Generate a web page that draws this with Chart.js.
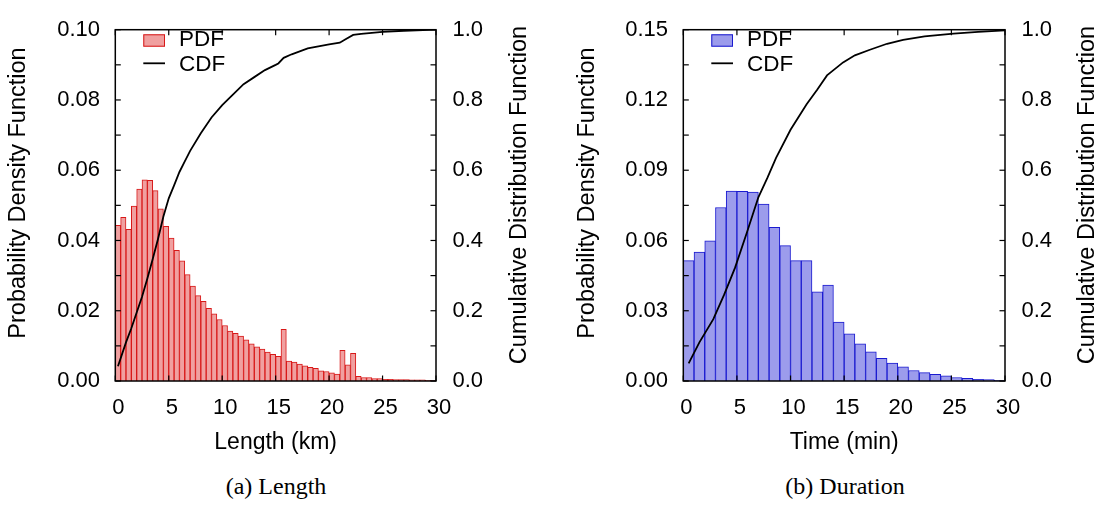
<!DOCTYPE html>
<html><head><meta charset="utf-8">
<script src="https://cdn.jsdelivr.net/npm/chart.js@4.4.1/dist/chart.umd.min.js"></script>
<style>
html,body{margin:0;padding:0;background:#fff;}
#wrap{position:relative;width:1102px;height:532px;overflow:hidden;background:#fff;}
canvas{position:absolute;top:0;}
#c1{left:0;} #c2{left:552px;}
.cap{position:absolute;top:472px;font-family:"Liberation Serif","DejaVu Serif",serif;font-size:24px;transform:translateX(-50%);white-space:nowrap;line-height:28px;color:#000;}
</style></head><body>
<div id="wrap">
<canvas id="c1" width="552" height="460"></canvas>
<canvas id="c2" width="550" height="460"></canvas>
<div class="cap" style="left:276px">(a) Length</div>
<div class="cap" style="left:845px">(b) Duration</div>
</div>
<script>
// ---------- data ----------
const lengthBins = [0.25,0.75,1.25,1.75,2.25,2.75,3.25,3.75,4.25,4.75,5.25,5.75,6.25,6.75,7.25,7.75,8.25,8.75,9.25,9.75,
  10.25,10.75,11.25,11.75,12.25,12.75,13.25,13.75,14.25,14.75,15.25,15.75,16.25,16.75,17.25,17.75,18.25,18.75,19.25,19.75,
  20.25,20.75,21.25,21.75,22.25,22.75,23.25,23.75,24.25,24.75,25.25,25.75,26.25,26.75,27.25,27.75,28.25,28.75,29.25,29.75];
const lengthPdf = [0.0443,0.0466,0.0432,0.0498,0.0546,0.0573,0.0571,0.0542,0.0490,0.0440,
  0.0407,0.0372,0.0342,0.0303,0.0270,0.0243,0.0227,0.0207,0.0191,0.0175,
  0.0158,0.0142,0.0136,0.0128,0.0117,0.0106,0.0097,0.0091,0.0082,0.0076,
  0.0070,0.0147,0.0057,0.0054,0.0048,0.0043,0.0039,0.0036,0.0029,0.0027,
  0.0023,0.0020,0.0087,0.0046,0.0079,0.0013,0.0010,0.0010,0.0007,0.0007,
  0.0005,0.0005,0.0004,0.0004,0.0004,0.0003,0.0003,0.0003,0.0002,0.0002];
const lengthCdfX = [0.25,1.0,1.5,2.0,2.5,3.0,3.5,4.0,4.5,5.0,5.5,6.0,6.5,7.0,8.0,9.0,10.0,11.0,12.0,13.0,14.0,15.0,15.25,15.75,16.5,18.0,20.0,21.0,21.5,22.25,23.0,25.0,27.0,30.0];
const lengthCdfY = [0.042,0.110,0.150,0.195,0.240,0.292,0.347,0.405,0.468,0.520,0.557,0.595,0.625,0.655,0.705,0.750,0.785,0.815,0.845,0.865,0.885,0.900,0.904,0.920,0.930,0.947,0.958,0.963,0.972,0.985,0.988,0.994,0.997,1.000];

const timeBins = [0.5,1.5,2.5,3.5,4.5,5.5,6.5,7.5,8.5,9.5,10.5,11.5,12.5,13.5,14.5,15.5,16.5,17.5,18.5,19.5,
  20.5,21.5,22.5,23.5,24.5,25.5,26.5,27.5,28.5,29.5];
const timePdf = [0.0514,0.0551,0.0599,0.0741,0.0811,0.0810,0.0807,0.0755,0.0656,0.0578,
  0.0514,0.0514,0.0381,0.0410,0.0252,0.0201,0.0159,0.0125,0.0097,0.0077,
  0.0060,0.0045,0.0036,0.0028,0.0022,0.0015,0.0011,0.0007,0.0006,0.0003];
const timeCdfX = [0.5,1.5,2.8,3.8,4.82,5.9,7.0,7.84,8.65,10.0,11.5,12.5,13.4,14.9,16.0,17.4,19.0,20.5,22.5,25.2,27.5,30.0];
const timeCdfY = [0.050,0.110,0.176,0.245,0.322,0.420,0.523,0.578,0.635,0.715,0.788,0.830,0.870,0.907,0.927,0.943,0.960,0.971,0.981,0.989,0.994,0.998];

const xTickLabels = [0,5,10,15,20,25,30];
const lengthYTicks = [0,0.02,0.04,0.06,0.08,0.10];
const timeYTicks = [0,0.03,0.06,0.09,0.12,0.15];
const cdfTicks = [0,0.2,0.4,0.6,0.8,1.0];

// ---------- drawing ----------
const SANS = '"Liberation Sans", Arial, Helvetica, sans-serif';
Chart.defaults.font.family = SANS;
Chart.defaults.color = '#000';

const decor = {
  id: 'decor',
  afterDatasetsDraw(chart, args, o) {
    const {ctx, chartArea: a, scales} = chart;
    ctx.save();
    ctx.strokeStyle = '#000';
    const seg = (x1,y1,x2,y2) => { ctx.beginPath(); ctx.moveTo(x1,y1); ctx.lineTo(x2,y2); ctx.stroke(); };
    ctx.lineWidth = 1.2;
    const TL = 5.5;
    for (const v of xTickLabels) {
      const px = scales.x.getPixelForValue(v);
      seg(px, a.bottom, px, a.bottom - TL);
      seg(px, a.top, px, a.top + TL);
    }
    const yt = o.yTicks;
    for (let i = 0; i < yt.length; i++) {
      const py = scales.y.getPixelForValue(yt[i]);
      seg(a.left, py, a.left + TL, py);
      if (i < yt.length - 1) {
        const pm = scales.y.getPixelForValue((yt[i] + yt[i+1]) / 2);
        seg(a.left, pm, a.left + TL, pm);
      }
    }
    for (let i = 0; i < cdfTicks.length; i++) {
      const py = scales.y2.getPixelForValue(cdfTicks[i]);
      seg(a.right, py, a.right - TL, py);
      if (i < cdfTicks.length - 1) {
        const pm = scales.y2.getPixelForValue((cdfTicks[i] + cdfTicks[i+1]) / 2);
        seg(a.right, pm, a.right - TL, pm);
      }
    }
    ctx.lineWidth = 1.5;
    ctx.strokeRect(a.left, a.top, a.right - a.left, a.bottom - a.top);
    // legend
    const lx = a.left + 28;
    ctx.fillStyle = o.fill;
    ctx.fillRect(lx, 34.3, 21.7, 12.4);
    ctx.strokeStyle = o.border; ctx.lineWidth = 1;
    ctx.strokeRect(lx + 0.5, 34.8, 20.7, 11.4);
    ctx.strokeStyle = '#000'; ctx.lineWidth = 1.8;
    seg(lx, 63.3, lx + 21.7, 63.3);
    ctx.fillStyle = '#000';
    ctx.font = '22.5px ' + SANS;
    ctx.textAlign = 'left'; ctx.textBaseline = 'middle';
    ctx.fillText('PDF', a.left + 63.7, 40);
    ctx.fillText('CDF', a.left + 63.7, 64.5);
    // axis titles (both read bottom-to-top)
    ctx.font = '23.5px ' + SANS;
    ctx.textAlign = 'center'; ctx.textBaseline = 'middle';
    ctx.save();
    ctx.translate(o.ltX, 193);
    ctx.rotate(-Math.PI / 2);
    ctx.fillText('Probability Density Function', 0, 0);
    ctx.restore();
    ctx.save();
    ctx.translate(o.rtX, 195);
    ctx.rotate(-Math.PI / 2);
    ctx.fillText('Cumulative Distribution Function', 0, 0);
    ctx.restore();
    ctx.restore();
  }
};

function makeChart(id, c) {
  const setTicks = (vals) => (s) => { s.ticks = vals.map(v => ({value: v})); };
  return new Chart(document.getElementById(id), {
    type: 'bar',
    data: {
      datasets: [
        {
          type: 'line', label: 'CDF', order: 0,
          data: c.cdfX.map((x, i) => ({x, y: c.cdfY[i]})),
          xAxisID: 'x', yAxisID: 'y2',
          borderColor: '#000', borderWidth: 1.8, pointRadius: 0, fill: false, tension: 0
        },
        {
          type: 'bar', label: 'PDF', order: 1,
          data: c.bins.map((x, i) => ({x, y: c.pdf[i]})),
          xAxisID: 'x', yAxisID: 'y',
          backgroundColor: c.fill, borderColor: c.border, borderWidth: 1,
          barPercentage: 1, categoryPercentage: 1, grouped: false
        }
      ]
    },
    options: {
      responsive: false, animation: false, devicePixelRatio: 1,
      layout: {padding: {top: 15.3, left: 0, right: 0, bottom: 0}},
      plugins: {legend: {display: false}, tooltip: {enabled: false}, decor: c.decor},
      scales: {
        x: {
          type: 'linear', position: 'bottom', min: 0, max: 30, offset: false,
          afterBuildTicks: setTicks(xTickLabels),
          afterFit: (s) => { s.height = 79; },
          grid: {display: false, drawTicks: false}, border: {display: false},
          ticks: {font: {size: 22}, padding: 13.5, labelOffset: 3, autoSkip: false, maxRotation: 0, callback: (v) => String(v)},
          title: {display: true, text: c.xTitle, font: {size: 23}, padding: {top: 0, bottom: 4}}
        },
        y: {
          type: 'linear', position: 'left', min: 0, max: c.yMax,
          afterBuildTicks: setTicks(c.yTicks),
          afterFit: (s) => { s.width = c.yW; },
          grid: {display: false, drawTicks: false}, border: {display: false},
          ticks: {font: {size: 22}, padding: 15.3, callback: (v) => Number(v).toFixed(2)}
        },
        y2: {
          type: 'linear', position: 'right', min: 0, max: 1,
          afterBuildTicks: setTicks(cdfTicks),
          afterFit: (s) => { s.width = c.y2W; },
          grid: {display: false, drawTicks: false}, border: {display: false},
          ticks: {font: {size: 22}, padding: 16.5, callback: (v) => Number(v).toFixed(1)}
        }
      }
    },
    plugins: [decor]
  });
}

makeChart('c1', {
  bins: lengthBins, pdf: lengthPdf, cdfX: lengthCdfX, cdfY: lengthCdfY,
  yMax: 0.10, yTicks: lengthYTicks, xTitle: 'Length (km)',
  fill: '#f0a0a0', border: '#d81818', yW: 115.3, y2W: 116,
  decor: {yTicks: lengthYTicks, fill: '#f0a0a0', border: '#d81818', ltX: 19, rtX: 520}
});
makeChart('c2', {
  bins: timeBins, pdf: timePdf, cdfX: timeCdfX, cdfY: timeCdfY,
  yMax: 0.15, yTicks: timeYTicks, xTitle: 'Time (min)',
  fill: '#9c9cec', border: '#1a1ad0', yW: 131.3, y2W: 97,
  decor: {yTicks: timeYTicks, fill: '#9c9cec', border: '#1a1ad0', ltX: 36, rtX: 536}
});
</script>
</body></html>
